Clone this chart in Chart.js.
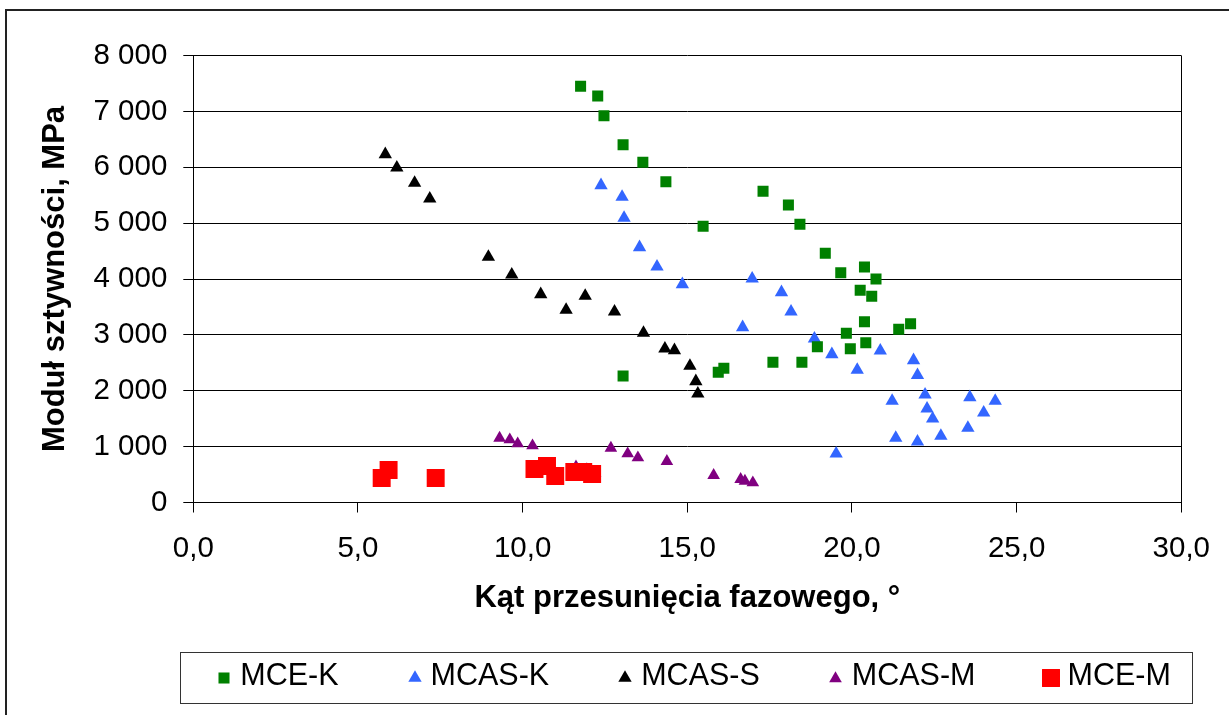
<!DOCTYPE html>
<html>
<head>
<meta charset="utf-8">
<script src="https://cdn.jsdelivr.net/npm/chart.js@4"></script>
<style>
  html, body { margin: 0; padding: 0; background: #fff; }
  canvas { display: block; }
</style>
</head>
<body>
<canvas id="chart" width="1229" height="715"></canvas>
<script>
// phase angle [deg] vs stiffness modulus [MPa]
const mceK = [
  [11.76, 7449], [12.28, 7275], [12.47, 6923], [13.05, 6404], [13.65, 6089],
  [14.35, 5741], [15.48, 4943], [17.30, 5570], [18.07, 5324], [18.42, 4979],
  [19.19, 4460], [19.66, 4113], [20.38, 4215], [20.73, 4000], [20.25, 3798],
  [20.60, 3690], [20.38, 3236], [19.83, 3028], [18.95, 2788], [19.95, 2753],
  [20.42, 2860], [21.42, 3100], [21.78, 3200], [17.60, 2509], [18.48, 2509],
  [15.94, 2330], [16.11, 2402], [13.05, 2264]
];
const mcasK = [
  [12.38, 5677], [13.02, 5468], [13.08, 5092], [13.55, 4567], [14.08, 4220],
  [14.85, 3905], [16.97, 4005], [17.86, 3762], [18.15, 3415], [16.68, 3136],
  [18.86, 2932], [19.39, 2652], [20.16, 2371], [20.86, 2717], [21.87, 2545],
  [21.99, 2277], [21.22, 1817], [22.22, 1929], [22.28, 1679], [22.45, 1500],
  [21.33, 1154], [21.99, 1088], [22.70, 1190], [23.58, 1883], [24.00, 1607],
  [24.35, 1817], [23.52, 1333], [19.52, 873]
];
const mcasS = [
  [5.83, 6232], [6.18, 5992], [6.72, 5718], [7.18, 5437], [8.96, 4394],
  [9.67, 4077], [10.55, 3726], [11.32, 3445], [11.90, 3696], [12.79, 3415],
  [13.67, 3034], [14.32, 2753], [14.61, 2724], [15.08, 2443], [15.26, 2169],
  [15.32, 1947]
];
const mcasM = [
  [9.30, 1154], [9.61, 1124], [9.85, 1052], [10.30, 1017], [12.68, 975],
  [13.19, 873], [13.50, 802], [14.38, 737], [15.80, 487], [16.62, 415],
  [16.75, 385], [16.99, 354], [11.62, 640], [11.95, 590], [12.20, 520]
];
const mceM = [
  [5.72, 438], [5.93, 582], [7.36, 438], [10.36, 600], [10.74, 653],
  [10.99, 474], [11.57, 546], [11.84, 546], [12.11, 510]
];

const seriesNames = ['MCE-K', 'MCAS-K', 'MCAS-S', 'MCAS-M', 'MCE-M'];
const seriesData = [mceK, mcasK, mcasS, mcasM, mceM];
const seriesColors = ['#008000', '#3366ff', '#000000', '#800080', '#ff0000'];
const seriesStyles = ['rect', 'triangle', 'triangle', 'triangle', 'rect'];
const seriesSizes = [7.8, 7.7, 7.7, 7.3, 12.7];

const xTitle = 'Kąt przesunięcia fazowego, °';
const yTitle = 'Moduł sztywności, MPa';

const FONT = '"Liberation Sans", Arial, sans-serif';

// small bitmap of each marker, same shape and size as in the plot
function legendMark(style, color, radius) {
  const size = Math.ceil(radius * 2) + 2;
  const cv = document.createElement('canvas');
  cv.width = cv.height = size;
  const g = cv.getContext('2d');
  const c = size / 2;
  g.fillStyle = color;
  g.beginPath();
  if (style === 'rect') {
    const h = radius * Math.SQRT1_2;
    g.rect(c - h, c - h, 2 * h, 2 * h);
  } else {
    for (let k = 0; k < 3; k++) {
      const a = k * 2 * Math.PI / 3;
      g.lineTo(c + Math.sin(a) * radius, c - Math.cos(a) * radius);
    }
    g.closePath();
  }
  g.fill();
  return cv;
}

const legendMarks = seriesStyles.map((s, i) => legendMark(s, seriesColors[i], seriesSizes[i]));

// outer frame, right edge of the plot and the boxed key under the axis title
const frames = {
  id: 'frames',
  beforeDraw(chart) {
    const ctx = chart.ctx;
    ctx.save();
    ctx.fillStyle = '#fff';
    ctx.fillRect(0, 0, chart.width, chart.height);
    ctx.strokeStyle = '#222';
    ctx.lineWidth = 2;
    ctx.strokeRect(6, 10, chart.width + 20, chart.height + 20);
    ctx.restore();
  },
  afterDraw(chart) {
    const ctx = chart.ctx;
    const a = chart.chartArea;
    ctx.save();
    ctx.strokeStyle = '#000';
    ctx.lineWidth = 1;
    const rx = Math.round(a.right) + 0.5;
    ctx.beginPath();
    ctx.moveTo(rx, a.top);
    ctx.lineTo(rx, a.bottom);
    ctx.stroke();

    const cy = 678;
    ctx.strokeStyle = '#333';
    ctx.strokeRect(Math.round(a.left) - 12.5, cy - 25.5, Math.round(a.right - a.left) + 24, 51);
    ctx.font = '30.5px ' + FONT;
    ctx.textBaseline = 'middle';
    ctx.fillStyle = '#000';
    let x = a.left + 31;
    chart.data.datasets.forEach((ds, i) => {
      const m = legendMarks[i];
      ctx.drawImage(m, Math.round(x - m.width / 2), Math.round(cy - m.height / 2));
      ctx.fillText(ds.label, x + 16, cy - 1.5);
      x += 16 + ctx.measureText(ds.label).width + 76;
    });
    ctx.restore();
  }
};

function thousands(v) {
  return String(v).replace(/\B(?=(\d{3})+(?!\d))/g, ' ');
}

new Chart(document.getElementById('chart'), {
  type: 'scatter',
  data: {
    datasets: seriesNames.map((name, i) => ({
      label: name,
      data: seriesData[i].map(p => ({ x: p[0], y: p[1] })),
      pointStyle: seriesStyles[i],
      pointRadius: seriesSizes[i],
      backgroundColor: seriesColors[i],
      borderColor: seriesColors[i],
      pointBorderWidth: 0,
      order: name === 'MCE-M' ? -1 : 0
    }))
  },
  options: {
    responsive: false,
    animation: false,
    events: [],
    layout: { padding: { left: 0, top: 55.5, right: 46, bottom: 0 } },
    plugins: {
      tooltip: { enabled: false },
      legend: { display: false }
    },
    scales: {
      x: {
        min: 0, max: 30,
        afterFit(scale) { scale.height = 212.5; },
        ticks: {
          stepSize: 5, autoSkip: false, padding: 19, color: '#000',
          font: { family: FONT, size: 29.5 },
          callback: v => v.toFixed(1).replace('.', ',')
        },
        grid: { drawOnChartArea: false, tickLength: 10, color: '#000' },
        border: { color: '#000', width: 1 },
        title: {
          display: true, text: xTitle, color: '#000',
          font: { family: FONT, size: 31, weight: 'bold' },
          padding: { top: 0, bottom: 98.4 }
        }
      },
      y: {
        min: 0, max: 8000,
        afterFit(scale) { scale.width = 193.3; },
        ticks: {
          stepSize: 1000, padding: 16, color: '#000',
          font: { family: FONT, size: 29.5 },
          callback: v => thousands(v)
        },
        grid: { color: '#000', tickLength: 10 },
        border: { color: '#000', width: 1 },
        title: {
          display: true, text: yTitle, color: '#000',
          font: { family: FONT, size: 31, weight: 'bold' },
          padding: { top: 36.4, bottom: 0 }
        }
      }
    }
  },
  plugins: [frames]
});
</script>
</body>
</html>
